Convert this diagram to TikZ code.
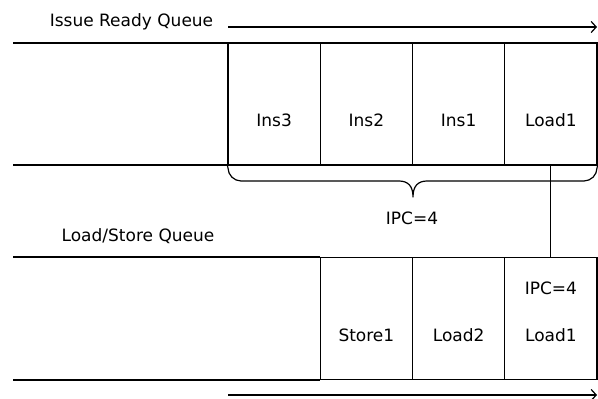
\documentclass[tikz,border=0pt]{standalone}
\usepackage{fontspec}
\setmainfont{DejaVu Sans}
\usetikzlibrary{arrows.meta}
\begin{document}
\begin{tikzpicture}[x=1pt,y=-1pt,
  rail/.style={line width=1.2pt},
  cell/.style={draw,line width=1.2pt,minimum width=92.25pt,minimum height=122pt,inner sep=0pt},
  lbl/.style={anchor=base,inner sep=0pt,font=\fontsize{17pt}{20pt}\selectfont},
  flow/.style={line width=1.2pt,-{Straight Barb[length=5pt,width=11pt,line width=1.2pt]}},
  brace/.style={line width=1.2pt,line join=round}]
\useasboundingbox (0,0) rectangle (598,399);

% issue ready queue
\node[lbl] (irqtitle) at (131.5,26) {Issue Ready Queue};
\coordinate (irqA) at (228,27);
\coordinate (irqB) at (597,27);
\draw[flow] (irqA) -- (irqB);

\draw[rail] (13,43) -- (228,43);
\draw[rail] (13,165) -- (228,165);
\node[cell] (ins3) at (274.125,104) {};
\node[cell] (ins2) at (366.375,104) {};
\node[cell] (ins1) at (458.625,104) {};
\node[cell] (ldA) at (550.875,104) {};
\node[lbl] at (274.125,126) {Ins3};
\node[lbl] at (366.375,126) {Ins2};
\node[lbl] at (458.625,126) {Ins1};
\node[lbl] at (550.875,126) {Load1};

% brace under the issue window
\draw[brace] (ins3.south west) -- (228,168)
  .. controls (228,175) and (234,181) .. (241,181)
  -- (399,181) .. controls (408,181) and (413,186) .. (413,197)
  .. controls (413,186) and (418,181) .. (427,181)
  -- (584,181) .. controls (591,181) and (597,175) .. (597,168)
  -- (ldA.south east);
\node[lbl] (ipcA) at (412,224) {IPC=4};

% load/store queue
\node[lbl] (lsqtitle) at (138,241) {Load/Store Queue};
\draw[rail] (13,257) -- (320.25,257);
\draw[rail] (13,380) -- (320.25,380);
\node[cell] (st1) at (366.375,318.5) {};
\node[cell] (ld2) at (458.625,318.5) {};
\node[cell] (ldB) at (550.875,318.5) {};
\node[lbl] at (366.375,341) {Store1};
\node[lbl] at (458.625,341) {Load2};
\node[lbl] at (550.875,341) {Load1};
\node[lbl] (ipcB) at (550.875,294) {IPC=4};

% load1 handed over to the load/store queue
\draw[rail] (ldA.south) -- (ldB.north);

\coordinate (lsqA) at (228,395);
\coordinate (lsqB) at (597,395);
\draw[flow] (lsqA) -- (lsqB);
\end{tikzpicture}
\end{document}
